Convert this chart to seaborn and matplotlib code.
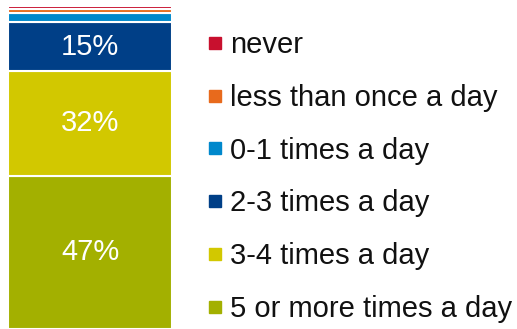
import matplotlib
matplotlib.use("Agg")
import matplotlib.pyplot as plt
from matplotlib.lines import Line2D
import seaborn as sns
import pandas as pd

# Share of respondents by frequency, stacked bottom to top
categories = ["5 or more times a day", "3-4 times a day", "2-3 times a day",
              "0-1 times a day", "less than once a day", "never"]
shares = [47, 32, 15, 3, 1, 1]
colors = ["#A3B000", "#D2C800", "#003F87", "#0088CC", "#E86A1C", "#C8102E"]
labels = ["47%", "32%", "15%", "", "", ""]

sns.set_theme(style="white")
plt.rcParams["font.family"] = ["Liberation Sans", "DejaVu Sans"]

W, H = 517, 329
fig = plt.figure(figsize=(W / 100, H / 100), dpi=100)
ax = fig.add_axes([8 / W, 0.0, (172 - 8) / W, (H - 6) / H])

df = pd.DataFrame({"group": ["all"] * len(categories),
                   "category": categories, "share": shares})

bottom = 0
for cat, val, col, lab in zip(categories, shares, colors, labels):
    sub = df[df["category"] == cat]
    sns.barplot(data=sub, x="group", y="share", bottom=bottom, color=col,
                saturation=1, width=1.0, edgecolor="white", linewidth=1.5,
                ax=ax)
    if lab:
        ax.text(0, bottom + val / 2, lab, ha="center", va="center",
                color="white", fontsize=21)
    bottom += val

ax.set_xlim(-0.5, 0.5)
ax.set_ylim(0, sum(shares))
ax.set_axis_off()

# Legend listed top to bottom, matching the stack order
handles = [Line2D([0], [0], marker="s", linestyle="none", markersize=8,
                  markerfacecolor=c, markeredgecolor=c)
           for c in reversed(colors)]
fig.legend(handles, list(reversed(categories)), loc="upper left",
           bbox_to_anchor=(208 / W, 1 - 31 / H), frameon=False,
           fontsize=21, handlelength=0.45, handletextpad=0.3,
           labelspacing=0.85, borderpad=0, borderaxespad=0,
           labelcolor="#111111")

fig.savefig("out.png", dpi=100)
